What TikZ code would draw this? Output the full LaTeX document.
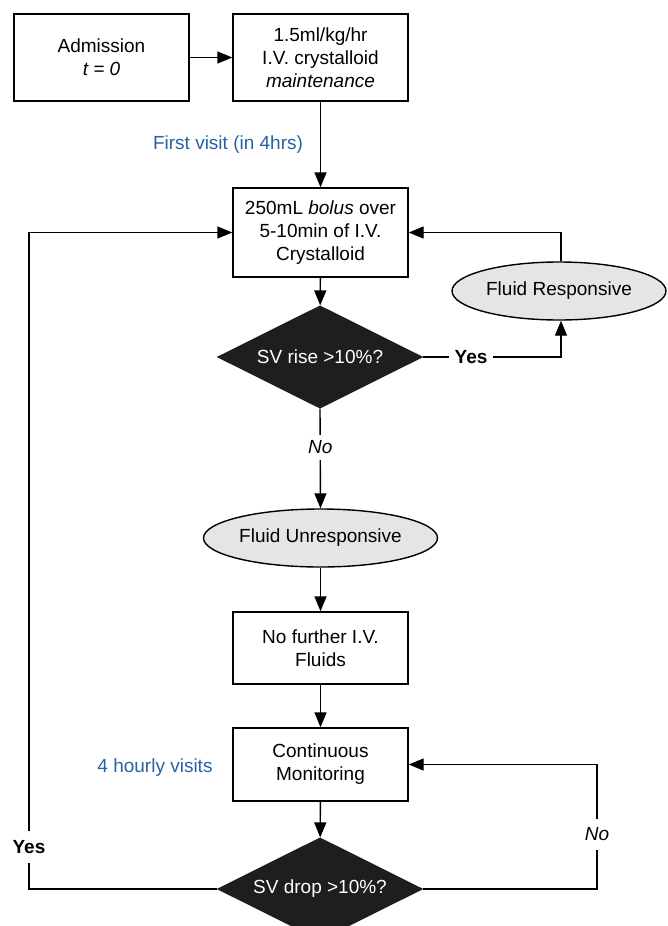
\documentclass[tikz,border=0pt]{standalone}
\usepackage{fontspec}
\setmainfont{Liberation Sans}
\usetikzlibrary{shapes.geometric,arrows.meta}
\definecolor{lbl}{RGB}{38,98,164}
\definecolor{ellfill}{RGB}{229,229,229}
\definecolor{dia}{RGB}{30,30,30}
\begin{document}
\begin{tikzpicture}[x=1pt,y=-1pt,
  font=\fontsize{19}{23}\selectfont,
  line width=1.4pt,
  arr/.style={-{Triangle[length=15pt,width=12pt]}},
  boxnode/.style={draw, rectangle, minimum width=175pt, align=center, inner sep=2pt},
  ellnode/.style={draw, ellipse, fill=ellfill, inner sep=0pt},
  dianode/.style={diamond, fill=dia, draw=dia, text=white, minimum width=204pt, minimum height=102pt, inner sep=0pt, aspect=2},
  lab/.style={fill=white, inner sep=6pt},
  bluelab/.style={text=lbl}]
\useasboundingbox (0,0) rectangle (667,926);
\node[boxnode, minimum height=87pt] (adm) at (101.5,57.5) {Admission\\\textit{t = 0}};
\node[boxnode, minimum height=87pt] (maint) at (320.5,57.5) {1.5ml/kg/hr\\I.V. crystalloid\\\textit{maintenance}};
\node[boxnode, minimum height=89pt] (bolus) at (320.5,232.5) {250mL \textit{bolus} over\\5-10min of I.V.\\Crystalloid};
\node[dianode] (rise) at (320,357) {SV rise >10\%?};
\node[ellnode, minimum width=214pt, minimum height=58pt] (resp) at (559,291) {Fluid Responsive};
\node[ellnode, minimum width=234pt, minimum height=58pt] (unresp) at (320.5,538) {Fluid Unresponsive};
\node[boxnode, minimum height=72pt] (nofl) at (320.5,648) {No further I.V.\\Fluids};
\node[boxnode, minimum height=73pt] (mon) at (320.5,764.5) {Continuous\\Monitoring};
\node[dianode] (drop) at (320,889) {SV drop >10\%?};
\node[bluelab] (fv) at (228,145) {First visit (in 4hrs)};
\node[bluelab] (hv) at (155,768) {4 hourly visits};
\coordinate (ry) at (561,357);
\coordinate (rn) at (597,889);
\coordinate (ly) at (29,889);
\draw[arr] (adm) -- (maint);
\draw[arr] (maint) -- (bolus);
\draw[arr] (bolus) -- (rise);
\draw[arr] (rise.east) -- node[lab, pos=0.35, font=\fontsize{19}{23}\selectfont\bfseries]{Yes} (ry) -- (ry |- resp.south);
\draw[arr] (ry |- resp.north) |- (bolus.east);
\draw[arr] (rise.south) -- node[lab, pos=0.39, font=\fontsize{19}{23}\selectfont\itshape]{No} (unresp.north);
\draw[arr] (unresp) -- (nofl);
\draw[arr] (nofl) -- (mon);
\draw[arr] (mon) -- (drop);
\draw[arr] (drop.east) -- (rn) -- node[lab, inner sep=9pt, pos=0.44, font=\fontsize{19}{23}\selectfont\itshape]{No} (rn |- mon.east) -- (mon.east);
\draw[arr] (drop.west) -- (ly) -- node[lab, inner sep=9pt, pos=0.064, font=\fontsize{19}{23}\selectfont\bfseries]{Yes} (ly |- bolus.west) -- (bolus.west);
\end{tikzpicture}
\end{document}
